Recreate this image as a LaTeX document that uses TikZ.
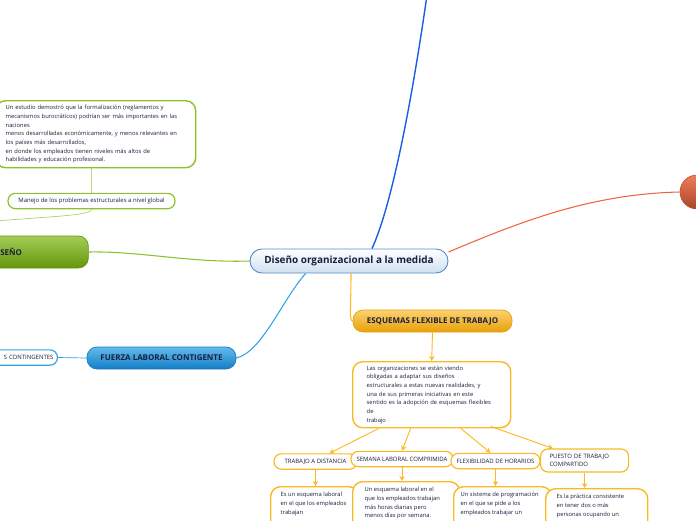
\documentclass[tikz,border=0pt]{standalone}
\usepackage{fontspec}
\setmainfont{Open Sans}
\definecolor{ink}{RGB}{25,30,60}
\definecolor{topblue}{RGB}{25,95,230}
\definecolor{redline}{RGB}{238,100,60}
\definecolor{leaf}{RGB}{140,192,45}
\definecolor{leafdark}{RGB}{100,150,10}
\definecolor{sky}{RGB}{45,165,228}
\definecolor{skydark}{RGB}{20,125,200}
\definecolor{gold}{RGB}{250,185,35}
\definecolor{golddark}{RGB}{232,160,10}
\definecolor{rootline}{RGB}{85,140,200}
\usetikzlibrary{arrows.meta,positioning,backgrounds}
\tikzset{
  root/.style={draw=rootline, line width=0.8pt, rounded corners=0.36cm, top color=white,
              bottom color=rootline!28, text=ink, font=\fontsize{8.5}{10}\selectfont\bfseries,
              minimum width=5.94cm, minimum height=0.72cm},
  mainbr/.style={rounded corners=0.3cm, line width=0.6pt, text=ink,
              font=\fontsize{6.8}{8}\selectfont\bfseries, minimum height=0.66cm},
  note/.style={draw, line width=1.2pt, fill=white, rounded corners=0.3cm, text=ink,
              font=\fontsize{4.95}{7.4}\selectfont, align=left},
  tag/.style={draw, line width=1pt, fill=white, rounded corners=0.22cm, text=ink,
              font=\fontsize{5.1}{6.6}\selectfont, minimum height=0.46cm, inner sep=2pt},
  link/.style={line width=0.9pt},
  down/.style={-{Stealth[length=1.5mm,width=1.6mm]}, gold, line width=0.8pt},
}

\begin{document}
\begin{tikzpicture}[x=0.03cm,y=-0.03cm]
    \useasboundingbox (0,0) rectangle (696,520);
    % central topic and main branches
    \node[root] (root) at (349,261) {Diseño organizacional a la medida};
    \node[mainbr, top color=leaf!80!white, bottom color=leafdark, draw=leafdark, anchor=west,
          inner xsep=1.2cm, text width=1.44cm, align=left, minimum height=0.96cm] (diseno) at (-40,252) {SEÑO};
    \node[mainbr, top color=sky!75!white, bottom color=skydark, draw=skydark,
          minimum width=4.47cm] (fuerza) at (161.5,358) {FUERZA LABORAL CONTIGENTE};
    \node[mainbr, top color=gold!65!white, bottom color=golddark, draw=golddark,
          minimum width=4.77cm] (esquemas) at (432.5,321) {ESQUEMAS FLEXIBLE DE TRABAJO};
    \node[circle, minimum size=1.02cm, draw=redline!80!black, line width=0.5pt,
          top color=redline!85!white, bottom color=redline!70!black] (fire) at (697,192) {};
    \coordinate (topend) at (427,-5);
    \coordinate (offleft) at (-5,221);

    % green side
    \node[note, draw=leaf, anchor=north west, text width=5.4cm, inner xsep=0.3cm,
          minimum height=2.01cm] (study) at (-5,100)
      {Un estudio demostró que la formalización (reglamentos y\\
       mecanismos burocráticos) podrían ser más importantes en las\\
       naciones\\
       menos desarrolladas económicamente, y menos relevantes en\\
       los países más desarrollados,\\
       en donde los empleados tienen niveles más altos de\\
       habilidades y educación profesional.};
    \node[tag, draw=leaf, minimum width=5.01cm] (global) at (91.5,201)
      {Manejo de los problemas estructurales a nivel global};

    % blue side
    \node[tag, draw=sky, anchor=east, text width=2.4cm, align=right, inner xsep=0.12cm]
      (contingentes) at (58,357.5) {S CONTINGENTES};

    % flexible schemes
    \node[note, draw=gold, anchor=north west, text width=3.9cm, inner xsep=0.42cm,
          minimum height=1.98cm] (intro) at (352,361)
      {Las organizaciones se están viendo\\
       obligadas a adaptar sus diseños\\
       estructurales a estas nuevas realidades, y\\
       una de sus primeras iniciativas en este\\
       sentido es la adopción de esquemas flexibles\\
       de\\
       trabajo};
    \node[tag, draw=gold, minimum width=2.49cm] (distancia) at (315.5,461.5) {TRABAJO A DISTANCIA};
    \node[tag, draw=gold, minimum width=3.06cm] (semana) at (402,459) {SEMANA LABORAL COMPRIMIDA};
    \node[tag, draw=gold, minimum width=2.67cm] (horarios) at (495.5,461) {FLEXIBILIDAD DE HORARIOS};
    \node[tag, draw=gold, anchor=west, text width=2.1cm, inner xsep=0.27cm, minimum height=0.69cm, align=left]
      (puesto) at (540,460.5) {PUESTO DE TRABAJO\\COMPARTIDO};

    \node[note, draw=gold, anchor=north west, inner xsep=0.3cm, inner ysep=0.17cm] (bdistancia) at (270,486)
      {\parbox[t][1.5cm][t]{2.04cm}{\raggedright Es un esquema laboral\\ en el que los empleados\\ trabajan}};
    \node[note, draw=gold, anchor=north west, inner xsep=0.36cm, inner ysep=0.17cm] (bsemana) at (352,481)
      {\parbox[t][1.5cm][t]{2.49cm}{\raggedright Un esquema laboral en el\\ que los empleados trabajan\\ más horas diarias pero\\ menos días por semana.}};
    \node[note, draw=gold, anchor=north west, inner xsep=0.21cm, inner ysep=0.17cm] (bhorarios) at (453,486)
      {\parbox[t][1.5cm][t]{2.52cm}{\raggedright Un sistema de programación\\ en el que se pide a los\\ empleados trabajar un}};
    \node[note, draw=gold, anchor=north west, inner xsep=0.33cm, inner ysep=0.17cm] (bpuesto) at (545,488)
      {\parbox[t][1.5cm][t]{2.4cm}{\raggedright Es la práctica consistente\\ en tener dos o más\\ personas ocupando un}};

    \begin{scope}[on background layer]
      \draw[link, topblue, line width=1.2pt] ([xshift=0.69cm]root.north) .. controls (392,205) and (412,100) .. (topend);
      \draw[link, redline] ([yshift=0.27cm]root.east) .. controls (520,222) and (590,194) .. (fire.west);
      \draw[link, leaf] (root.west) .. controls (190,263) and (140,251) .. (diseno.east);
      \draw[leaf!60, line width=0.6pt] (global.north |- study.south) -- (global.north);
      \draw[leaf!70, line width=0.6pt] (global.south) .. controls (92,215) and (60,216) .. (offleft);
      \draw[link, sky] (fuerza.east) .. controls (262,352) and (282,300) .. ([xshift=-1.3cm]root.south);
      \draw[sky, line width=0.6pt] (contingentes.east) -- (fuerza.west);
      \draw[link, gold] ([xshift=0.06cm]root.south) .. controls (351,308) and (349,321) .. (esquemas.west);
    \end{scope}

    \draw[down] (esquemas.south) -- (intro.north);
    \draw[down] ([xshift=-1.59cm]intro.south) -- ([xshift=0.42cm]distancia.north);
    \draw[down] ([xshift=-0.63cm]intro.south) -- (semana.north);
    \draw[down] ([xshift=0.87cm]intro.south) -- ([xshift=-0.15cm]horarios.north);
    \draw[down] ([xshift=1.77cm,yshift=0.06cm]intro.south) -- ([xshift=0.39cm]puesto.north west);
    \draw[down] (distancia.south) -- (distancia.south |- bdistancia.north);
    \draw[down] (semana.south) -- (semana.south |- bsemana.north);
    \draw[down] (horarios.south) -- (horarios.south |- bhorarios.north);
    \draw[down] (puesto.south) -- (puesto.south |- bpuesto.north);
\end{tikzpicture}
\end{document}
